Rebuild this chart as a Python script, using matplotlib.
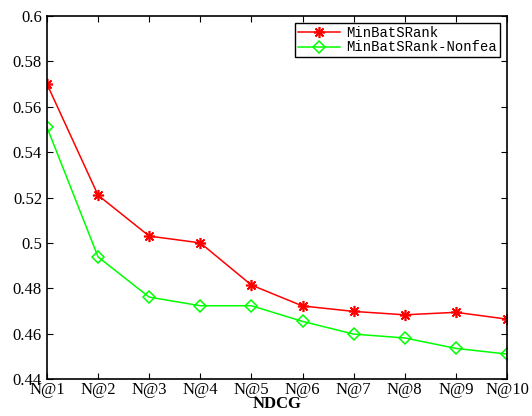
import matplotlib
matplotlib.use('Agg')
import matplotlib.pyplot as plt

# x tick labels
labels = ['N@1', 'N@2', 'N@3', 'N@4', 'N@5', 'N@6', 'N@7', 'N@8', 'N@9', 'N@10']

# NDCG values
minbat = [0.570, 0.521, 0.503, 0.500, 0.4814, 0.4722, 0.4698, 0.4683, 0.4694, 0.4664]
minbat_nonfea = [0.551, 0.4938, 0.4761, 0.4723, 0.4723, 0.4654, 0.4598, 0.4581, 0.4535, 0.4510]

plt.rcParams['font.family'] = ['Liberation Serif', 'DejaVu Serif']

fig = plt.figure(figsize=(5.32, 4.16), dpi=100)
ax = fig.add_axes([0.0883, 0.0889, 0.8647, 0.8726])

x = range(1, len(labels) + 1)
# matlab style asterisk: 8 spokes
ax.plot(x, minbat, color='red', marker=(8, 2, 0), markersize=8,
        markeredgewidth=1.2, linewidth=1.1, label='MinBatSRank')
ax.plot(x, minbat_nonfea, color='#00ff00', marker='D', markersize=6,
        markerfacecolor='none', markeredgewidth=1.1, linewidth=1.1,
        label='MinBatSRank-Nonfea')

ax.set_xlim(1, 10)
ax.set_ylim(0.44, 0.6)
ax.set_xticks(list(x))
ax.set_xticklabels(labels)
ax.set_yticks([0.44, 0.46, 0.48, 0.5, 0.52, 0.54, 0.56, 0.58, 0.6])
ax.set_yticklabels(['0.44', '0.46', '0.48', '0.5', '0.52', '0.54', '0.56', '0.58', '0.6'])
ax.tick_params(direction='in', labelsize=12, top=True, right=True, length=4)
ax.tick_params(axis='x', pad=2)
for s in ax.spines.values():
    s.set_linewidth(1.2)

ax.set_xlabel('NDCG', fontsize=12, fontweight='bold', labelpad=-1)

leg = ax.legend(loc='upper right', prop={'family': 'Liberation Mono', 'size': 10},
                fancybox=False, edgecolor='black', framealpha=1,
                borderpad=0.2, handlelength=3.0, labelspacing=0.05,
                handletextpad=0.5, borderaxespad=0,
                bbox_to_anchor=(0.985, 0.981))
leg.get_frame().set_linewidth(1.0)

fig.savefig('out.png', dpi=100)
